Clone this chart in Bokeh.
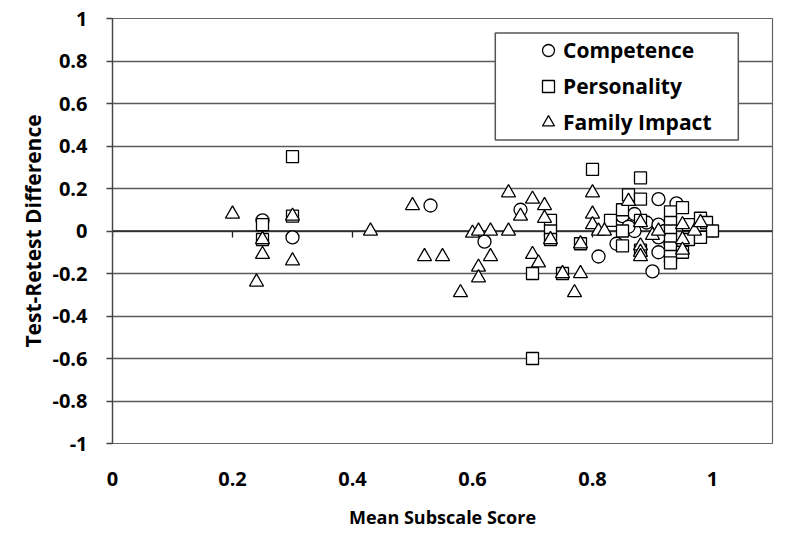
from bokeh.plotting import figure
from bokeh.models import FixedTicker, Range1d, Legend, LegendItem, BoxAnnotation, Span
from bokeh.embed import file_html
from bokeh.resources import INLINE

# ---------------- data ----------------
competence_x = [0.25, 0.30, 0.53, 0.68, 0.62, 0.81, 0.85, 0.87, 0.87, 0.84, 0.89, 0.91, 0.94, 0.91,
                0.91, 0.92, 0.91, 0.90, 0.86, 0.93]
competence_y = [0.05, -0.03, 0.12, 0.10, -0.05, -0.12, 0.07, 0.08, 0.00, -0.06, 0.04, 0.15, 0.13, 0.03,
                -0.10, 0.00, -0.03, -0.19, 0.02, -0.06]

personality_x = [0.25, 0.25, 0.30, 0.30, 0.70, 0.70, 0.73, 0.73, 0.73, 0.75, 0.78, 0.80, 0.83, 0.85,
                 0.85, 0.85, 0.86, 0.88, 0.88, 0.88, 0.88, 0.93, 0.93, 0.93, 0.93, 0.93, 0.93, 0.93,
                 0.95, 0.96, 0.96, 0.95, 0.98, 0.99, 1.00, 0.98]
personality_y = [0.03, -0.04, 0.35, 0.07, -0.20, -0.60, 0.05, 0.00, -0.04, -0.20, -0.06, 0.29, 0.05, 0.10,
                 0.00, -0.07, 0.17, 0.25, 0.15, 0.05, -0.09, 0.09, 0.04, 0.00, -0.04, -0.08, -0.12, -0.15,
                 0.11, 0.03, -0.04, -0.10, 0.06, 0.04, 0.00, -0.03]

family_x = [0.20, 0.24, 0.25, 0.25, 0.30, 0.30, 0.43, 0.50, 0.52, 0.55, 0.58, 0.60, 0.61, 0.61, 0.61,
            0.63, 0.63, 0.66, 0.66, 0.68, 0.70, 0.70, 0.71, 0.72, 0.72, 0.73, 0.75, 0.77, 0.78, 0.78,
            0.80, 0.80, 0.80, 0.81, 0.82, 0.86, 0.88, 0.88, 0.88, 0.88, 0.90, 0.91, 0.95, 0.95, 0.95,
            0.97, 0.98]
family_y = [0.08, -0.24, -0.04, -0.11, 0.07, -0.14, 0.00, 0.12, -0.12, -0.12, -0.29, -0.01, 0.00, -0.17, -0.22,
            0.00, -0.12, 0.18, 0.00, 0.07, 0.15, -0.11, -0.15, 0.12, 0.06, -0.04, -0.20, -0.29, -0.06, -0.20,
            0.18, 0.08, 0.03, 0.00, 0.00, 0.14, 0.04, -0.07, -0.10, -0.12, -0.02, 0.00, 0.03, -0.04, -0.09,
            0.00, 0.04]

x_ticks = [0, 0.2, 0.4, 0.6, 0.8, 1]
x_tick_labels = ["0", "0.2", "0.4", "0.6", "0.8", "1"]
y_ticks = [-1, -0.8, -0.6, -0.4, -0.2, 0, 0.2, 0.4, 0.6, 0.8, 1]
y_tick_labels = ["-1", "-0.8", "-0.6", "-0.4", "-0.2", "0", "0.2", "0.4", "0.6", "0.8", "1"]

series_names = ["Competence", "Personality", "Family Impact"]
x_title = "Mean Subscale Score"
y_title = "Test-Retest Difference"

FONT = "Open Sans"

# ---------------- figure ----------------
p = figure(frame_width=660, frame_height=425,
           x_range=Range1d(0, 1.1), y_range=Range1d(-1, 1),
           output_backend="svg", toolbar_location=None,
           min_border_left=112, min_border_right=14, min_border_top=18, min_border_bottom=87)
p.background_fill_color = "white"
p.border_fill_color = "white"
p.outline_line_color = "#666666"
p.outline_line_width = 1.2

# grid
p.xgrid.grid_line_color = None
p.ygrid.ticker = FixedTicker(ticks=y_ticks)
p.ygrid.grid_line_color = "#5a5a5a"
p.ygrid.grid_line_width = 1.3

zero_line = Span(location=0, dimension="width", line_color="#222222", line_width=1.6, level="underlay")
p.add_layout(zero_line)

# y axis
p.yaxis.ticker = FixedTicker(ticks=y_ticks)
p.yaxis.major_label_overrides = dict(zip(y_ticks, y_tick_labels))
p.yaxis.axis_line_color = "#444444"
p.yaxis.axis_line_width = 1.3
p.yaxis.major_tick_line_color = "#444444"
p.yaxis.major_tick_line_width = 1.3
p.yaxis.major_tick_out = 6
p.yaxis.major_tick_in = 0
p.yaxis.minor_tick_line_color = None
p.yaxis.major_label_standoff = 19
p.yaxis.major_label_text_font = FONT
p.yaxis.major_label_text_font_style = "bold"
p.yaxis.major_label_text_font_size = "20px"
p.yaxis.major_label_text_color = "black"
p.yaxis.axis_label = y_title
p.yaxis.axis_label_text_font = FONT
p.yaxis.axis_label_text_font_style = "bold"
p.yaxis.axis_label_text_font_size = "21px"
p.yaxis.axis_label_text_color = "black"
p.yaxis.axis_label_standoff = 2

# x axis (labels only; the drawn axis crosses at y = 0)
p.xaxis.ticker = FixedTicker(ticks=x_ticks)
p.xaxis.major_label_overrides = dict(zip(x_ticks, x_tick_labels))
p.xaxis.axis_line_color = None
p.xaxis.major_tick_line_color = None
p.xaxis.minor_tick_line_color = None
p.xaxis.major_tick_out = 0
p.xaxis.major_tick_in = 0
p.xaxis.major_label_standoff = 28
p.xaxis.major_label_text_font = FONT
p.xaxis.major_label_text_font_style = "bold"
p.xaxis.major_label_text_font_size = "20px"
p.xaxis.major_label_text_color = "black"
p.xaxis.axis_label = x_title
p.xaxis.axis_label_text_font = FONT
p.xaxis.axis_label_text_font_style = "bold"
p.xaxis.axis_label_text_font_size = "18px"
p.xaxis.axis_label_text_color = "black"
p.xaxis.axis_label_standoff = 16

# tick marks hanging from the zero line
p.segment(x0=x_ticks, y0=[0] * len(x_ticks), x1=x_ticks, y1=[-0.03] * len(x_ticks),
          line_color="#222222", line_width=1.3)

# points
rc = p.scatter(competence_x, competence_y, marker="circle", size=13,
               fill_color="white", line_color="black", line_width=1.3)
rs = p.scatter(personality_x, personality_y, marker="square", size=12,
               fill_color="white", line_color="black", line_width=1.3)
rt = p.scatter(family_x, family_y, marker="triangle", size=14,
               fill_color="white", line_color="black", line_width=1.3)

# legend box
box = BoxAnnotation(left=0.638, right=1.043, top=0.932, bottom=0.428,
                    fill_color="white", fill_alpha=1.0, line_color="#555555", line_width=1.5,
                    line_alpha=1.0)
p.add_layout(box)

legend = Legend(items=[LegendItem(label=series_names[0], renderers=[rc]),
                       LegendItem(label=series_names[1], renderers=[rs]),
                       LegendItem(label=series_names[2], renderers=[rt])],
                location=(421, 306), padding=0, spacing=6, margin=0,
                label_height=30, glyph_height=30, glyph_width=30, label_standoff=0,
                border_line_color=None, background_fill_alpha=0.0,
                label_text_font=FONT, label_text_font_style="bold",
                label_text_font_size="21px", label_text_color="black")
p.add_layout(legend)

open("out.html", "w").write(file_html(p, INLINE))
